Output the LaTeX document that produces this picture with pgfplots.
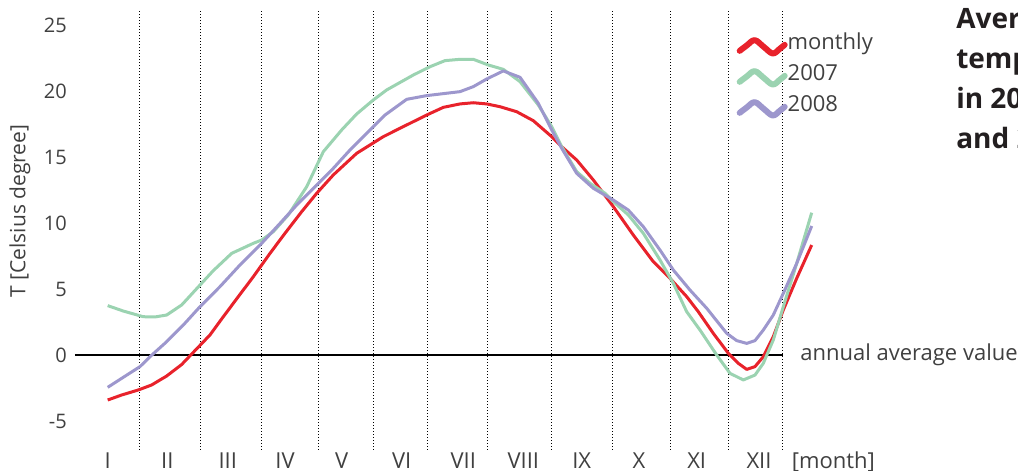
\documentclass[border=0pt]{standalone}
\usepackage{fontspec}
\setmainfont{Open Sans}
\usepackage{pgfplots}
\pgfplotsset{compat=1.18}
\usepackage{pgfplotstable}

\definecolor{mred}{HTML}{E8222B}
\definecolor{mgreen}{HTML}{9BD3B1}
\definecolor{mpurple}{HTML}{9D97CD}
\definecolor{txt}{HTML}{404040}
\definecolor{ttl}{HTML}{231F20}

% x: horizontal position along the year (axis units), T: temperature in deg C
\pgfplotstableread{
x T
107.7 -3.41
121.7 -3.03
138.3 -2.65
151.7 -2.27
166.7 -1.59
181.7 -0.72
193.3 0.20
210 1.52
223.3 2.90
238.3 4.42
253.3 5.93
270 7.70
285 9.22
301.7 10.86
316.7 12.25
333.3 13.64
356.7 15.28
383.3 16.54
403.3 17.30
426.7 18.18
443.3 18.76
460 19.02
473.3 19.11
486.7 19.02
500 18.81
516.7 18.43
533.3 17.75
551.7 16.54
561.7 15.78
576.7 14.77
593.3 13.26
613.3 11.24
633.3 9.09
653.3 7.07
670 5.81
686.7 4.42
698.3 3.28
713.3 1.64
728.3 0.13
738.3 -0.63
746.7 -1.09
755 -0.88
763.3 -0.13
773.3 1.39
783.3 3.41
796.7 5.81
811.7 8.33
}\monthly

\pgfplotstableread{
x T
107.7 3.74
123.3 3.33
143.3 2.90
155 2.88
166.7 3.03
181.7 3.79
200 5.30
213.3 6.39
231.7 7.70
253.3 8.46
261.7 8.71
273.3 9.34
288.3 10.61
306.7 12.75
323.3 15.40
341.7 17.05
356.7 18.26
373.3 19.32
386.7 20.08
413.3 21.21
430 21.84
445 22.30
460 22.40
473.3 22.40
488.3 21.97
503.3 21.64
520 20.71
538.3 18.94
551.7 17.30
561.7 15.78
576.7 13.89
590 13.01
605 12.25
613.3 11.62
628.3 10.61
643.3 9.22
660 7.20
673.3 5.43
686.7 3.28
700 1.89
716.7 0.00
730 -1.39
743.3 -1.89
755 -1.52
763.3 -0.63
773.3 1.14
783.3 3.66
796.7 6.94
811.7 10.78
}\yearA

\pgfplotstableread{
x T
107.7 -2.45
123.3 -1.69
140 -0.88
150 -0.13
166.7 1.01
183.3 2.27
200 3.66
220 5.18
240 6.82
261.7 8.46
280 9.97
296.7 11.36
316.7 12.88
333.3 14.14
350 15.53
370 17.05
385 18.18
406.7 19.37
426.7 19.65
460 19.95
473.3 20.33
486.7 20.91
503.3 21.52
520 21.04
538.3 19.07
551.7 17.05
561.7 15.66
576.7 13.76
593.3 12.63
613.3 11.74
628.3 10.98
643.3 9.72
660 7.95
673.3 6.44
690 4.92
706.7 3.54
726.7 1.64
736.7 1.09
746.7 0.88
755 1.09
763.3 1.89
773.3 3.03
783.3 4.67
796.7 6.94
811.7 9.77
}\yearB

\begin{document}
\begin{tikzpicture}
\begin{axis}[
  at={(56.25pt,15.75pt)}, anchor=south west,
  scale only axis, width=552.75pt, height=330pt,
  xmin=75, xmax=812, ymin=-7.197, ymax=26.136,
  clip=false,
  axis lines=left, axis line style={draw=none,-},
  major tick length=0pt,
  ytick={-5,0,5,10,15,20,25},
  yticklabels={-5,0,5,10,15,20,25},
  yticklabel style={anchor=east, inner sep=0pt, xshift=-6pt,
    font=\fontsize{15pt}{18pt}\selectfont, text=txt},
  xtick={107.7,167.3,227.7,285,341.7,401.7,463.3,523.3,581.7,639,696.7,759},
  xticklabels={I,II,III,IV,V,VI,VII,VIII,IX,X,XI,XII},
  xticklabel style={anchor=base, inner sep=0pt, yshift=-14pt,
    font=\fontsize{16.5pt}{20pt}\selectfont, text=txt},
  extra x ticks={139.7,200.7,261.3,318.7,373,427.3,487.3,551.7,612.7,670.7,728.7,782.7},
  extra x tick labels={},
  extra x tick style={grid=major},
  major grid style={black, line width=0.75pt, dash pattern=on 0.75pt off 1.5pt},
  ylabel={T [Celsius degree]},
  ylabel style={at={(axis description cs:-0.0746,0.543)}, anchor=center,
    font=\fontsize{15.75pt}{18pt}\selectfont, text=txt},
  legend image code/.code={%
    \draw[#1, line width=4.5pt, line cap=round]
      plot[smooth, tension=0.6] coordinates {(0pt,-3pt) (5.25pt,1pt) (11.25pt,5pt) (18pt,0pt) (24.75pt,-5pt) (30pt,-1.5pt) (33.75pt,1.5pt)};},
  legend style={at={(axis cs:736.7,24.52)}, anchor=north west,
    draw=none, fill=none, inner sep=0pt, outer sep=0pt,
    row sep=0pt, column sep=0pt,
    font=\fontsize{16.5pt}{20pt}\selectfont, text=txt,
    nodes={inner sep=0pt, text height=14pt, text depth=9.25pt}},
  legend cell align=left,
]
% annual average (zero) reference line
\addplot[black, line width=1pt, forget plot] coordinates {(75,0) (782.7,0)};

\addplot[mred, line width=2.25pt, line join=round] table[x=x,y=T] {\monthly};
\addlegendentry{monthly}
\addplot[mgreen, line width=2.25pt, line join=round] table[x=x,y=T] {\yearA};
\addlegendentry{2007}
\addplot[mpurple, line width=2.25pt, line join=round] table[x=x,y=T] {\yearB};
\addlegendentry{2008}

\node[anchor=base west, inner sep=0pt, font=\fontsize{16.5pt}{20pt}\selectfont, text=txt]
  at (axis cs:800,-0.38) {annual average value};
\node[anchor=base west, inner sep=0pt, font=\fontsize{16.5pt}{20pt}\selectfont, text=txt]
  at (axis cs:791.7,-8.61) {[month]};

% title block
\begin{scope}[every node/.style={anchor=base west, inner sep=0pt,
    font=\fontsize{21pt}{24pt}\selectfont\bfseries, text=ttl}]
\node at (axis cs:956,24.77) {Average};
\node at (axis cs:956,21.74) {temperature};
\node at (axis cs:956,18.71) {in 2007};
\node at (axis cs:956,15.68) {and 2008};
\end{scope}
\end{axis}
\pgfresetboundingbox
\useasboundingbox (0pt,0pt) rectangle (763.5pt,353.25pt);
\end{tikzpicture}
\end{document}
